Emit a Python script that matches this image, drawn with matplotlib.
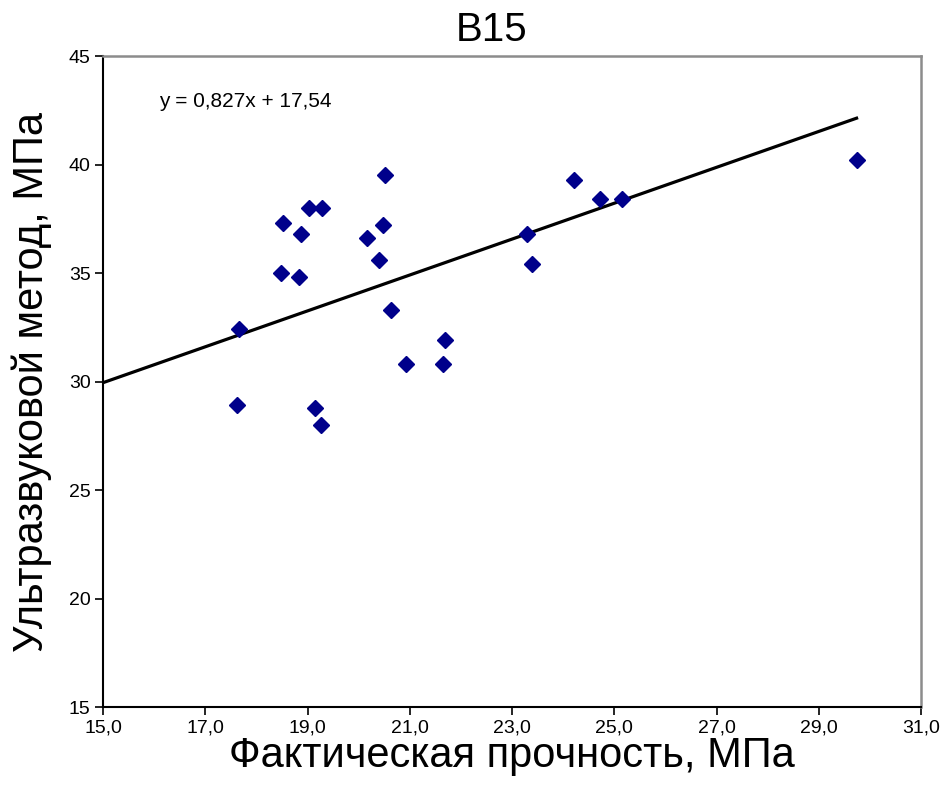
import matplotlib.pyplot as plt
import numpy as np

# Фактическая прочность, МПа
x_actual = [17.66, 17.62, 18.52, 18.48, 18.84, 18.87, 19.03, 19.29,
            19.15, 19.27, 20.17, 20.40, 20.48, 20.52, 20.64, 20.92,
            21.69, 21.65, 23.30, 23.40, 24.22, 24.73, 25.16, 29.74]
# Ультразвуковой метод, МПа
y_ultra = [32.4, 28.9, 37.3, 35.0, 34.8, 36.8, 38.0, 38.0,
           28.8, 28.0, 36.6, 35.6, 37.2, 39.5, 33.3, 30.8,
           31.9, 30.8, 36.8, 35.4, 39.3, 38.4, 38.4, 40.2]

slope = 0.827
intercept = 17.54
x_ticks = [15, 17, 19, 21, 23, 25, 27, 29, 31]
y_ticks = [15, 20, 25, 30, 35, 40, 45]

plt.rcParams['font.family'] = ['Liberation Sans', 'DejaVu Sans']

fig = plt.figure(figsize=(9.46, 7.93), dpi=100)
ax = fig.add_axes([103 / 946, 1 - 707 / 793, 818 / 946, 651 / 793])

line_x = np.array([15.0, max(x_actual)])
ax.plot(line_x, slope * line_x + intercept, color="black", linewidth=2.3, zorder=2)

ax.plot(x_actual, y_ultra, linestyle="none", marker="D",
        markersize=8, color="#00008b", zorder=3)

ax.set_xlim(15, 31)
ax.set_ylim(15, 45)
ax.set_xticks(x_ticks)
ax.set_yticks(y_ticks)
ax.set_xticklabels([f"{t:.1f}".replace(".", ",") for t in x_ticks])
ax.set_yticklabels([str(t) for t in y_ticks])
ax.tick_params(direction="out", length=6, width=1.2, color="black",
               labelsize=14, pad=3)

for side in ["left", "bottom"]:
    ax.spines[side].set_color("black")
    ax.spines[side].set_linewidth(1.5)
for side in ["top", "right"]:
    ax.spines[side].set_color("#8c8c8c")
    ax.spines[side].set_linewidth(1.8)

ax.text(16.1, 42.9, "y = 0,827x + 17,54", fontsize=15, ha="left", va="center")

fig.text(492 / 946, 1 - 30 / 793, "B15", fontsize=29, ha="center", va="center")
ax.set_xlabel("Фактическая прочность, МПа", fontsize=30, labelpad=0)
ax.set_ylabel("Ультразвуковой метод, МПа", fontsize=30, labelpad=12)

plt.savefig("out.png", dpi=100)
